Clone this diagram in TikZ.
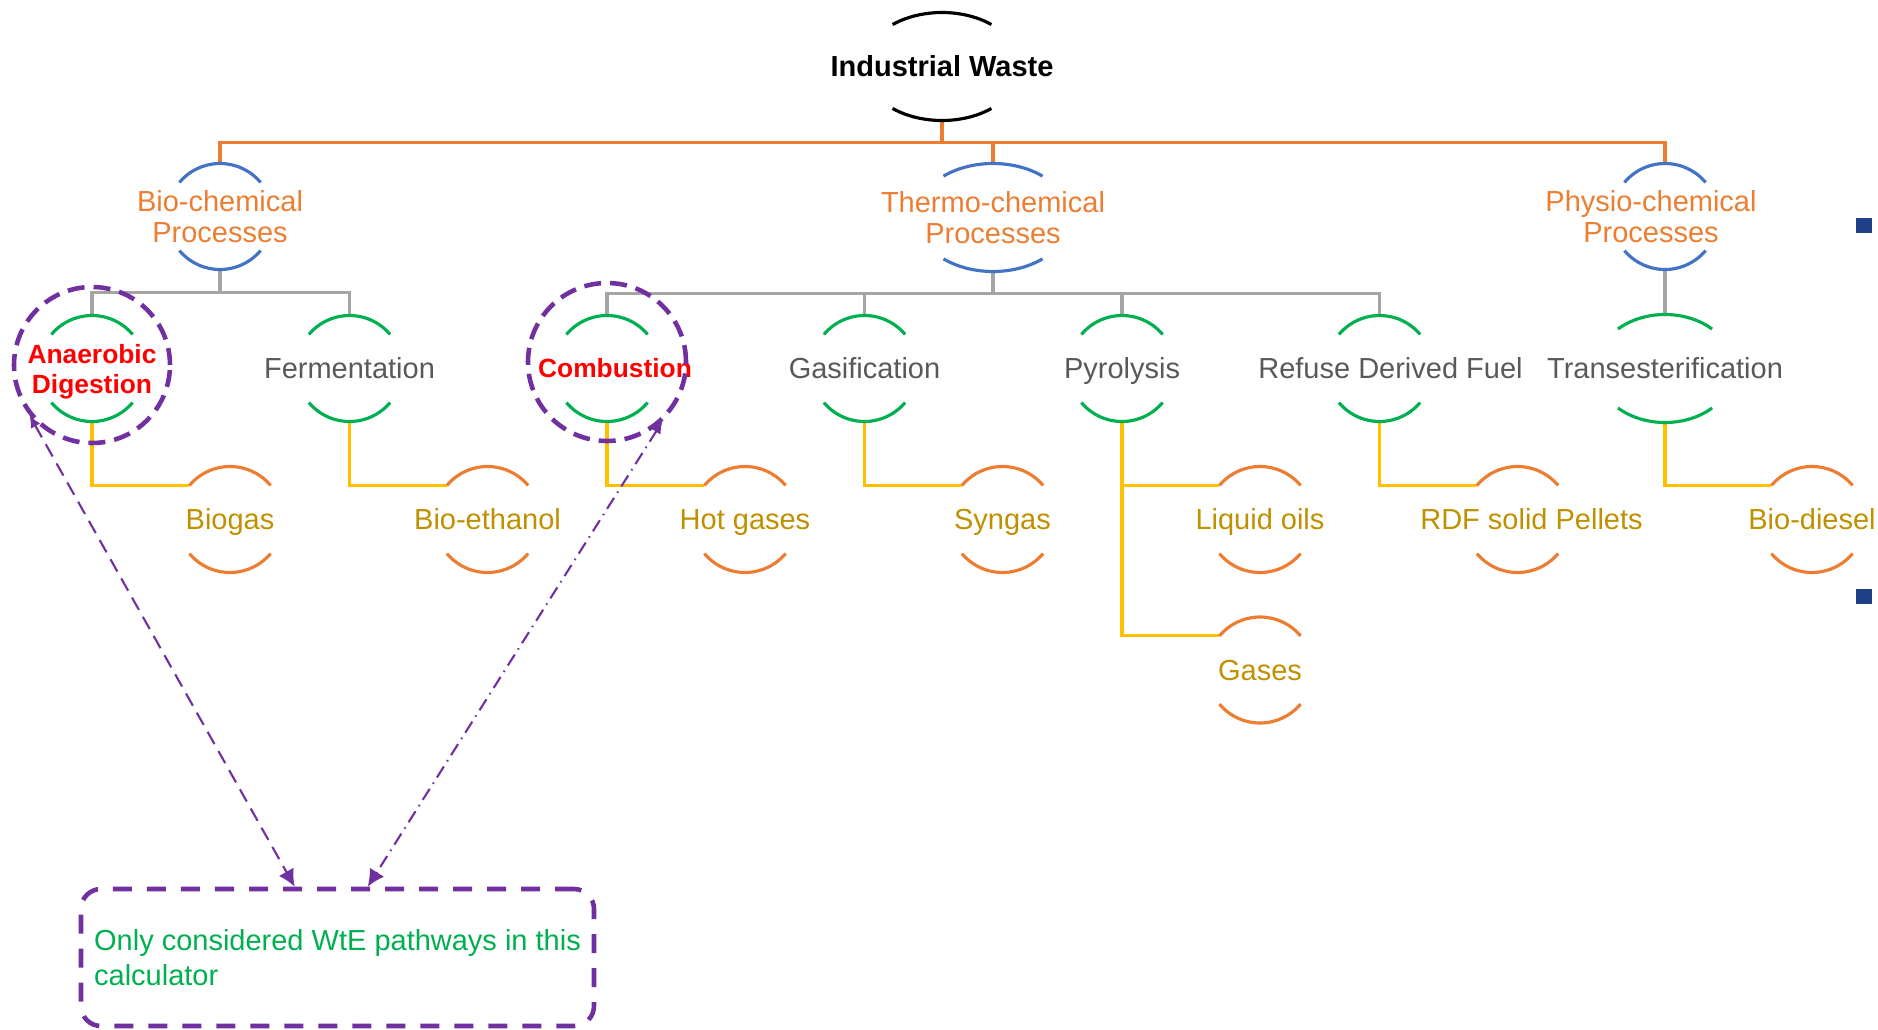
\documentclass[tikz,border=0pt]{standalone}
\usepackage{fontspec}
\setmainfont{Liberation Sans}
\usetikzlibrary{shapes.geometric,positioning,calc,arrows.meta}

\definecolor{arcblue}{HTML}{4472C4}
\definecolor{wteorange}{HTML}{ED7D31}
\definecolor{wtegreen}{HTML}{00B050}
\definecolor{wteyellow}{HTML}{FFC000}
\definecolor{wtegray}{HTML}{A5A5A5}
\definecolor{procgray}{HTML}{595959}
\definecolor{wtegold}{HTML}{BF9000}
\definecolor{wtepurple}{HTML}{7030A0}
\definecolor{markblue}{HTML}{1F4088}

\newcommand{\bigfont}{\fontsize{16.5}{18}\selectfont}
\newcommand{\redfont}{\fontsize{15}{17}\selectfont}
\newcommand{\notefont}{\fontsize{16.5}{19.9}\selectfont}

% top and bottom arc of a hub: node, colour, x radius, y radius, start angle
\newcommand{\arcpair}[5]{%
  \draw[arcline, #2] ($(#1.center)+(#5:#3 and #4)$) arc[start angle=#5, end angle=180-#5, x radius=#3, y radius=#4];
  \draw[arcline, #2] ($(#1.center)+(180+#5:#3 and #4)$) arc[start angle=180+#5, end angle=360-#5, x radius=#3, y radius=#4];
}

\begin{document}
\begin{tikzpicture}[
    on grid,
    arcline/.style={line width=1.8pt},
    hub/.style={circle, minimum size=2.12cm, inner sep=0pt},
    widehub/.style={ellipse, minimum width=#1, minimum height=2.16cm, inner sep=0pt},
    headtxt/.style={text=wteorange, font=\bigfont, align=center},
    proctxt/.style={text=procgray, font=\bigfont, text height=11.8pt, text depth=0pt},
    picktxt/.style={text=red, font=\redfont\bfseries, align=center},
    outtxt/.style={text=wtegold, font=\bigfont, text height=11.8pt, text depth=0pt},
    bus/.style={line width=1.8pt, #1},
    ring/.style={circle, draw=wtepurple, line width=2.6pt, dash pattern=on 0.34cm off 0.18cm, minimum size=#1, inner sep=0pt},
    note/.style={draw=wtepurple, line width=2.6pt, dash pattern=on 0.38cm off 0.3cm, rounded corners=0.4cm,
                 minimum width=10.26cm, minimum height=2.74cm, align=left, text=wtegreen, font=\notefont, inner sep=0pt},
    link/.style={wtepurple, line width=1.2pt, {Latex[length=0.24cm,width=0.22cm]}-{Latex[length=0.34cm,width=0.34cm]}},
    bulletsq/.style={rectangle, fill=markblue, minimum size=0.31cm, inner sep=0pt}
]
\useasboundingbox (0,0) rectangle (37.56,-20.58);

% Root
\node[widehub=3.14cm, label={[font=\bigfont\bfseries]center:Industrial Waste}] (root) at (18.84,-1.33) {};

% Process groups
\node[hub, below left=3.0cm and 14.44cm of root, label={[headtxt]center:Bio-chemical\\Processes}] (bio) {};
\node[widehub=3.08cm, below right=3.02cm and 1.02cm of root, label={[headtxt]center:Thermo-chemical\\Processes}] (thermo) {};
\node[hub, below right=3.0cm and 14.46cm of root, label={[headtxt, xshift=-0.28cm]center:Physio-chemical\\Processes}] (physio) {};

% Processes
\node[hub, below left=3.04cm and 2.56cm of bio, label={[picktxt, yshift=-0.06cm]center:Anaerobic\\Digestion}] (ad) {};
\node[hub, right=5.15cm of ad, label={[proctxt]center:Fermentation}] (ferm) {};
\node[hub, right=5.15cm of ferm, label={[picktxt, xshift=0.16cm]center:Combustion}] (comb) {};
\node[hub, right=5.15cm of comb, label={[proctxt]center:Gasification}] (gasif) {};
\node[hub, right=5.15cm of gasif, label={[proctxt]center:Pyrolysis}] (pyro) {};
\node[hub, right=5.15cm of pyro, label={[proctxt, xshift=0.22cm]center:Refuse Derived Fuel}] (rdf) {};
\node[widehub=2.76cm, below=3.04cm of physio, label={[proctxt]center:Transesterification}] (trans) {};

% Products
\node[hub, below right=3.02cm and 2.76cm of ad, label={[outtxt]center:Biogas}] (biogas) {};
\node[hub, below right=3.02cm and 2.76cm of ferm, label={[outtxt]center:Bio-ethanol}] (ethanol) {};
\node[hub, below right=3.02cm and 2.76cm of comb, label={[outtxt]center:Hot gases}] (hotgas) {};
\node[hub, below right=3.02cm and 2.76cm of gasif, label={[outtxt]center:Syngas}] (syngas) {};
\node[hub, below right=3.02cm and 2.76cm of pyro, label={[outtxt]center:Liquid oils}] (liquid) {};
\node[hub, below=3.01cm of liquid, label={[outtxt]center:Gases}] (gases) {};
\node[hub, below right=3.02cm and 2.76cm of rdf, label={[outtxt, xshift=0.28cm]center:RDF solid Pellets}] (pellets) {};
\node[hub, below right=3.02cm and 2.94cm of trans, label={[outtxt]center:Bio-diesel}] (diesel) {};

% Tree lines
\draw[bus=wteorange] (root.south) -- ++(0,-0.44) coordinate (rootbus);
\draw[bus=wteorange] (bio.north) |- (rootbus) -| (physio.north);
\draw[bus=wteorange] (thermo.north) |- (rootbus);

\draw[bus=wtegray] (bio.south) -- ++(0,-0.46) coordinate (biobus);
\draw[bus=wtegray] (ad.north) |- (biobus) -| (ferm.north);
\draw[bus=wtegray] (thermo.south) -- ++(0,-0.43) coordinate (thermobus);
\draw[bus=wtegray] (comb.north) |- (thermobus) -| (rdf.north);
\draw[bus=wtegray] (gasif.north) |- (thermobus);
\draw[bus=wtegray] (pyro.north) |- (thermobus);
\draw[bus=wtegray] (physio.south) -- (trans.north);

\foreach \p/\o in {ad/biogas, ferm/ethanol, comb/hotgas, gasif/syngas, pyro/liquid, pyro/gases, rdf/pellets, trans/diesel}
  \draw[bus=wteyellow] (\p.south) |- (\o.140);

% Arcs
\arcpair{root}{black}{1.57cm}{1.08cm}{51}
\arcpair{thermo}{arcblue}{1.54cm}{1.08cm}{50}
\foreach \n in {bio,physio} {\arcpair{\n}{arcblue}{1.06cm}{1.06cm}{40}}
\foreach \n in {ad,ferm,comb,gasif,pyro,rdf} {\arcpair{\n}{wtegreen}{1.06cm}{1.06cm}{40}}
\arcpair{trans}{wtegreen}{1.38cm}{1.08cm}{47}
\foreach \n in {biogas,ethanol,hotgas,syngas,liquid,gases,pellets,diesel} {\arcpair{\n}{wteorange}{1.06cm}{1.06cm}{40}}

% Selected pathways
\node[ring=3.12cm] (adring) at ([yshift=0.07cm]ad.center) {};
\node[ring=3.16cm] (combring) at ([yshift=0.13cm]comb.center) {};

\node[note] (note) at (6.75,-19.15) {Only considered WtE pathways in this\\calculator};
\coordinate (noteA) at ([xshift=4.32cm]note.north west);
\coordinate (noteB) at ([xshift=5.78cm]note.north west);

\draw[link, dash pattern=on 0.28cm off 0.16cm] (adring.219) -- (noteA);
\draw[link, dash pattern=on 0.26cm off 0.12cm on 0.03cm off 0.12cm] (combring.313) -- (noteB);

% Side marks
\node[bulletsq] (sq1) at (37.28,-4.51) {};
\node[bulletsq] (sq2) at (37.28,-11.93) {};

\end{tikzpicture}
\end{document}
